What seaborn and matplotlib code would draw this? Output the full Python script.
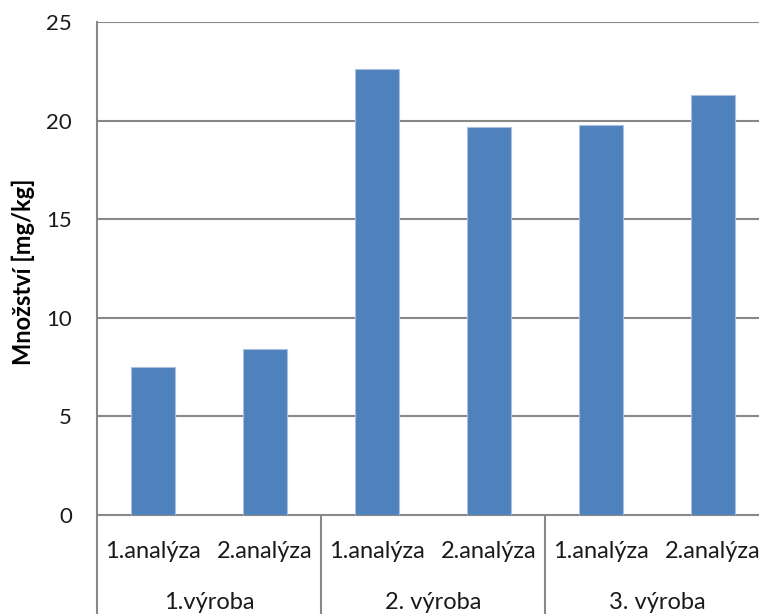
import matplotlib
matplotlib.use("Agg")
import matplotlib.pyplot as plt
import matplotlib.transforms as mtransforms
import seaborn as sns
import pandas as pd

# Measured quantities per production batch and analysis
batches = ["1.výroba", "2. výroba", "3. výroba"]
analyses = ["1.analýza", "2.analýza"]
values = [7.5, 8.4, 22.6, 19.7, 19.8, 21.3]
y_ticks = [0, 5, 10, 15, 20, 25]

rows = []
for bi, b in enumerate(batches):
    for ai, a in enumerate(analyses):
        rows.append({"key": f"{b}|{a}", "batch": b, "analysis": a,
                     "value": values[bi * len(analyses) + ai]})
df = pd.DataFrame(rows)

sns.set_theme(style="white")
plt.rcParams["font.family"] = ["Lato", "DejaVu Sans"]

W, H = 759, 614
fig = plt.figure(figsize=(W / 100, H / 100), dpi=100)
left, right, top, bottom = 97, 769, 22, 515
ax = fig.add_axes([left / W, 1 - bottom / H, (right - left) / W, (bottom - top) / H])

grid_col = "#888888"
text_col = "#1a1a1a"

sns.barplot(data=df, x="key", y="value", order=list(df["key"]), color="#4F81BD",
            width=0.4, saturation=1, edgecolor="#a9c0de", linewidth=0.8, ax=ax, zorder=3)

ax.set_xlim(-0.5, len(df) - 0.5)
ax.set_ylim(0, 25)
ax.set_yticks(y_ticks)
ax.set_yticklabels([str(t) for t in y_ticks], fontsize=16, color=text_col)
ax.tick_params(axis="y", length=0, pad=18)
ax.set_xticks([])
ax.set_xlabel("")
ax.set_ylabel("")
fig.text(23 / W, 1 - 272 / H, "Množství [mg/kg]", rotation=90, ha="center", va="center",
         fontsize=17, fontweight="bold", color="black")

for yv in y_ticks[1:]:
    ax.axhline(yv, color=grid_col, linewidth=1.5, zorder=1)

for s in ["top", "right"]:
    ax.spines[s].set_visible(False)
ax.spines["left"].set_color(grid_col)
ax.spines["left"].set_linewidth(1.5)
ax.spines["bottom"].set_color(grid_col)
ax.spines["bottom"].set_linewidth(1.5)

trans = mtransforms.blended_transform_factory(ax.transData, ax.transAxes)

# Two-level category axis
for i, a in enumerate(df["analysis"]):
    ax.text(i, -0.075, a, transform=trans, ha="center", va="center",
            fontsize=17, color=text_col, clip_on=False)
n_a = len(analyses)
for bi, b in enumerate(batches):
    xc = bi * n_a + (n_a - 1) / 2
    ax.text(xc, -0.178, b, transform=trans, ha="center", va="center",
            fontsize=17, color=text_col, clip_on=False)
for bi in range(len(batches)):
    xs = bi * n_a - 0.5
    ax.plot([xs, xs], [0, -0.3], transform=trans, color=grid_col,
            linewidth=1.5, clip_on=False, zorder=4)

fig.savefig("out.png", dpi=100)
